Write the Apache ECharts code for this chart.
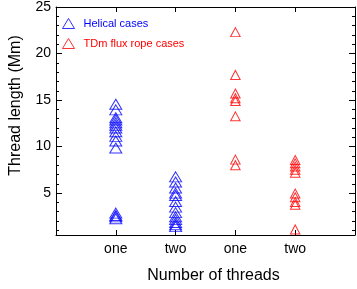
<!DOCTYPE html>
<html><head><meta charset="utf-8">
<script src="https://cdn.jsdelivr.net/npm/echarts@6/dist/echarts.min.js"></script>
<style>html,body{margin:0;padding:0;background:#fff}#c{width:357px;height:289px}</style>
</head><body><div id="c"></div>
<script>
const categories = ['one', 'two', 'one', 'two'];
const catPositions = [1, 2, 3, 4];
const yTicks = [5, 10, 15, 20, 25];
const helicalOne = [14.55, 13.95, 13.1, 12.85, 12.55, 12.3, 12.0, 11.6, 11.1, 10.6, 9.85, 2.85, 2.6, 2.45, 2.25];
const helicalTwo = [6.75, 6.2, 5.55, 5.0, 4.75, 4.1, 3.5, 2.9, 2.45, 2.15, 1.85, 1.6, 1.4];
const tdmOne = [22.3, 17.7, 15.7, 15.2, 14.9, 13.25, 8.6, 8.0];
const tdmTwo = [8.55, 8.2, 7.85, 7.5, 7.2, 4.95, 4.55, 4.05, 3.75, 1.1];

const minorTicks = [];
for (let i = 1; i <= 25; i++) if (i % 5) minorTicks.push(i);

const font = 'Liberation Sans, Arial, Helvetica, sans-serif';
const black = '#000';
function xAx(pos, labels) {
  return {
    type: 'value', position: pos, min: 0, max: 5, gridIndex: 0,
    axisLine: {show: true, onZero: false, lineStyle: {color: black, width: 1}},
    axisTick: {show: true, inside: true, length: 5, customValues: catPositions, lineStyle: {color: black}},
    axisLabel: {show: labels, customValues: catPositions, margin: 7, fontSize: 14, fontFamily: font, color: black,
      formatter: v => categories[catPositions.indexOf(v)] || ''},
    splitLine: {show: false},
    name: labels ? 'Number of threads' : '',
    nameLocation: 'middle', nameGap: 33,
    nameTextStyle: {fontSize: 16, fontFamily: font, color: black, padding: [0, 0, 0, 16]}
  };
}
function yAx(pos, major, labels) {
  return {
    type: 'value', position: pos, min: 0.5, max: 25, gridIndex: 0,
    axisLine: {show: major, onZero: false, lineStyle: {color: black, width: 1}},
    axisTick: {show: true, inside: true, length: major ? 6 : 3, customValues: major ? yTicks : minorTicks, lineStyle: {color: black}},
    axisLabel: {show: labels, customValues: yTicks, margin: 5, fontSize: 14, fontFamily: font, color: black},
    splitLine: {show: false},
    name: labels ? 'Thread length (Mm)' : '',
    nameLocation: 'middle', nameGap: 32,
    nameTextStyle: {fontSize: 16, fontFamily: font, color: black, padding: [0, 0, 0, 31]}
  };
}
const chart = echarts.init(document.getElementById('c'), null, {renderer: 'canvas'});
chart.setOption({
  animation: false,
  backgroundColor: '#fff',
  grid: {left: 44, right: 2, top: 1, bottom: 40, containLabel: false},
  xAxis: [xAx('bottom', true), xAx('top', false)],
  yAxis: [yAx('left', true, true), yAx('right', true, false), yAx('left', false, false), yAx('right', false, false)],
  legend: {
    orient: 'vertical', left: 57, top: 13, itemGap: 9, itemWidth: 12, itemHeight: 10,
    icon: 'triangle',
    itemStyle: {borderWidth: 1},
    data: [
      {name: 'Helical cases', textStyle: {color: '#0000ff'}},
      {name: 'TDm flux rope cases', textStyle: {color: '#ff0000'}}
    ],
    textStyle: {fontSize: 11, fontFamily: font, padding: [0, 0, 0, 4]}
  },
  series: [
    {
      name: 'Helical cases', type: 'scatter', symbol: 'triangle', symbolSize: [12, 10],
      itemStyle: {color: 'rgba(0,0,0,0)', borderColor: '#0000ff', borderWidth: 1},
      data: helicalOne.map(v => [catPositions[0], v]).concat(helicalTwo.map(v => [catPositions[1], v]))
    },
    {
      name: 'TDm flux rope cases', type: 'scatter', symbol: 'triangle', symbolSize: [9.5, 9],
      itemStyle: {color: 'rgba(0,0,0,0)', borderColor: '#ff0000', borderWidth: 1},
      data: tdmOne.map(v => [catPositions[2], v]).concat(tdmTwo.map(v => [catPositions[3], v]))
    }
  ]
});
</script></body></html>
